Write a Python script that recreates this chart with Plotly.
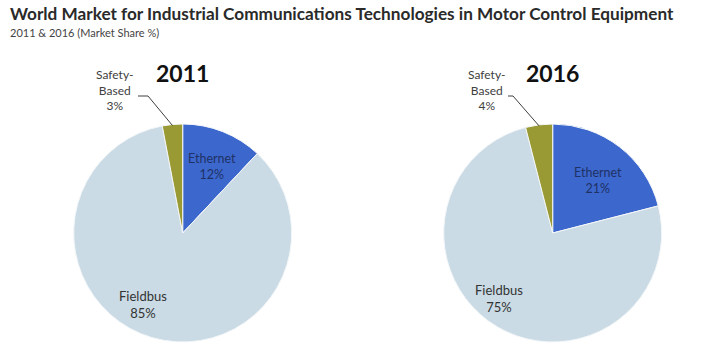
import math
import plotly.graph_objects as go

# Data
categories = ["Ethernet", "Fieldbus", "Safety-Based"]
years = ["2011", "2016"]
share_2011 = [12, 85, 3]
share_2016 = [21, 75, 4]
colors = ["#3c67cd", "#cadbe5", "#9a9a34"]

W, H = 720, 360
R = 109
centers = [(182.7, 233.0), (552.7, 233.0)]


def px(x):
    return x / W


def py(y):
    return 1 - y / H


fig = go.Figure()
for (cx, cy), vals, yr in zip(centers, [share_2011, share_2016], years):
    fig.add_trace(go.Pie(
        labels=categories, values=vals, sort=False, direction="clockwise",
        rotation=0, textinfo="none", hoverinfo="label+percent",
        marker=dict(colors=colors, line=dict(color="#f4f7f9", width=1)),
        domain=dict(x=[px(cx - R), px(cx + R)], y=[py(cy + R), py(cy - R)]),
        showlegend=False, name=yr,
    ))

font = "Lato, 'Open Sans', sans-serif"
ann = []
ann.append(dict(x=px(8), y=py(14), xref="paper", yref="paper", xanchor="left", yanchor="middle",
                text="<b>World Market for Industrial Communications Technologies in Motor Control Equipment</b>",
                showarrow=False, font=dict(family=font, size=17.2, color="#2a2a2a")))
ann.append(dict(x=px(8), y=py(32), xref="paper", yref="paper", xanchor="left", yanchor="middle",
                text="2011 & 2016 (Market Share %)", showarrow=False,
                font=dict(family=font, size=11, color="#444444")))

label_pos = [
    dict(year=(182, 73), eth=(212, 166), fld=(143, 304), saf=(115, 90), elbow=(138, 148)),
    dict(year=(552, 73), eth=(598, 180), fld=(499, 298), saf=(487, 90), elbow=(508, 513)),
]
shapes = []
common = dict(xref="paper", yref="paper", showarrow=False, xanchor="center", yanchor="middle")
for (cx, cy), vals, yr, lp in zip(centers, [share_2011, share_2016], years, label_pos):
    ann.append(dict(x=px(lp["year"][0]), y=py(lp["year"][1]),
                    text="<b>%s</b>" % yr,
                    font=dict(family=font, size=23, color="#111111"), **common))
    ann.append(dict(x=px(lp["eth"][0]), y=py(lp["eth"][1]),
                    text="%s<br>%d%%" % (categories[0], vals[0]),
                    font=dict(family=font, size=12.5, color="#1f3266"), **common))
    ann.append(dict(x=px(lp["fld"][0]), y=py(lp["fld"][1]),
                    text="%s<br>%d%%" % (categories[1], vals[1]),
                    font=dict(family=font, size=13, color="#333333"), **common))
    ann.append(dict(x=px(lp["saf"][0]), y=py(lp["saf"][1]),
                    text="Safety-<br>Based<br>%d%%" % vals[2],
                    font=dict(family=font, size=12, color="#404040"), **common))
    # leader line to middle of safety slice
    mid = -(vals[2] / sum(vals)) * 360 / 2
    ex = cx + R * math.sin(math.radians(mid))
    ey = cy - R * math.cos(math.radians(mid)) + 1
    x0, x1 = lp["elbow"]
    path = "M %f %f L %f %f L %f %f" % (px(x0), py(96), px(x1), py(96), px(ex), py(ey))
    shapes.append(dict(type="path", xref="paper", yref="paper", path=path,
                       line=dict(color="#404040", width=1)))

fig.update_layout(width=W, height=H, margin=dict(l=0, r=0, t=0, b=0),
                  paper_bgcolor="white", plot_bgcolor="white",
                  annotations=ann, shapes=shapes)
fig.write_html("out.html", config={"displayModeBar": False},
               post_script="document.body.style.margin='0px';document.body.style.overflow='hidden';")
